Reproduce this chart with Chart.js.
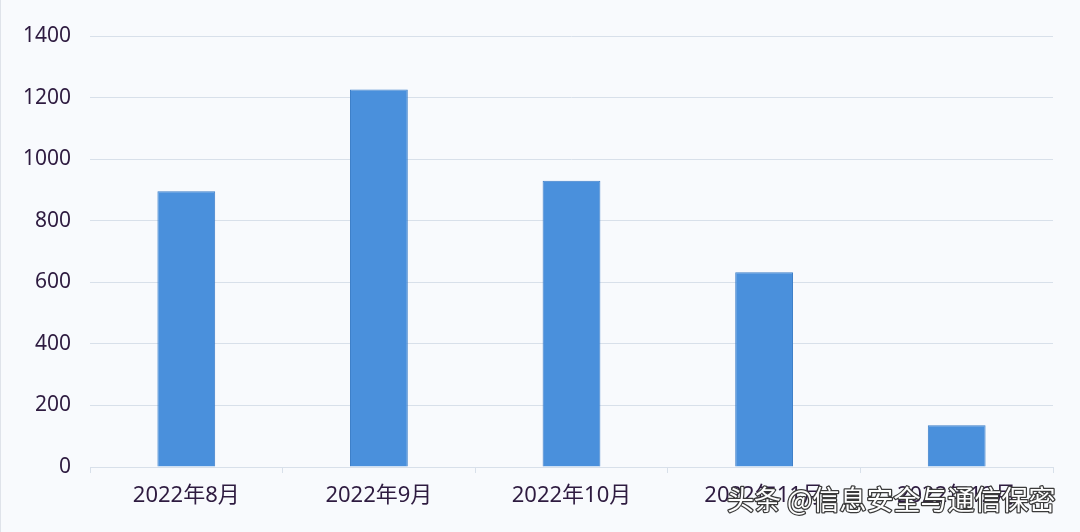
<!DOCTYPE html>
<html>
<head>
<meta charset="utf-8">
<script src="https://cdn.jsdelivr.net/npm/chart.js@4.4.1/dist/chart.umd.min.js"></script>
<style>
  html, body { margin: 0; padding: 0; background: #f8fafd; }
  #wrap { width: 1080px; height: 532px; position: relative; }
</style>
</head>
<body>
<div id="wrap"><canvas id="c" width="1080" height="532"></canvas></div>
<script>
const categories = ['2022年8月', '2022年9月', '2022年10月', '2022年11月', '2022年12月'];
const values = [896, 1226, 930, 633, 136];
const yTicks = [0, 200, 400, 600, 800, 1000, 1200, 1400];
const watermark = '头条 @信息安全与通信保密';

const textColor = '#2e1b40';
const gridColor = '#d8e0ea';

const watermarkPlugin = {
  id: 'watermark',
  afterDraw(chart) {
    const ctx = chart.ctx;
    ctx.save();
    ctx.font = '27px "Noto Sans CJK SC", sans-serif';
    ctx.textBaseline = 'middle';
    ctx.textAlign = 'left';
    ctx.lineJoin = 'round';
    ctx.lineWidth = 2.5;
    ctx.strokeStyle = '#3a3a3a';
    ctx.strokeText(watermark, 727, 500);
    ctx.fillStyle = '#ffffff';
    ctx.fillText(watermark, 727, 500);
    ctx.restore();
  }
};

const bgPlugin = {
  id: 'bg',
  beforeDraw(chart) {
    const ctx = chart.ctx;
    ctx.save();
    ctx.fillStyle = '#f8fafd';
    ctx.fillRect(0, 0, chart.width, chart.height);
    ctx.fillStyle = '#dfe3ea';
    ctx.fillRect(0, 0, 1, chart.height);
    ctx.restore();
  }
};

new Chart(document.getElementById('c'), {
  type: 'bar',
  data: {
    labels: categories,
    datasets: [{
      data: values,
      backgroundColor: '#4a90dc',
      borderColor: '#3d7fc9',
      borderWidth: 1,
      categoryPercentage: 1,
      barPercentage: 0.3
    }]
  },
  options: {
    responsive: false,
    animation: false,
    devicePixelRatio: 1,
    layout: { padding: { top: 36, right: 27, left: 0, bottom: 0 } },
    plugins: { legend: { display: false }, tooltip: { enabled: false } },
    scales: {
      x: {
        grid: { drawOnChartArea: false, drawTicks: true, tickLength: 6, color: gridColor, offset: true },
        border: { display: true, color: gridColor, width: 1 },
        ticks: { color: textColor, font: { family: '"Noto Sans", "Noto Sans CJK SC", sans-serif', size: 22 }, padding: 10, maxRotation: 0 },
        afterFit(scale) { scale.height = 65; }
      },
      y: {
        min: 0, max: 1400,
        afterBuildTicks(scale) { scale.ticks = yTicks.map(v => ({ value: v })); },
        grid: { color: gridColor, drawTicks: false, lineWidth: 1 },
        border: { display: false },
        ticks: {
          color: textColor,
          font: { family: '"Noto Sans", sans-serif', size: 21 },
          padding: 19,
          callback: (v) => String(v)
        },
        afterFit(scale) { scale.width = 90; }
      }
    }
  },
  plugins: [bgPlugin, watermarkPlugin]
});
</script>
</body>
</html>
